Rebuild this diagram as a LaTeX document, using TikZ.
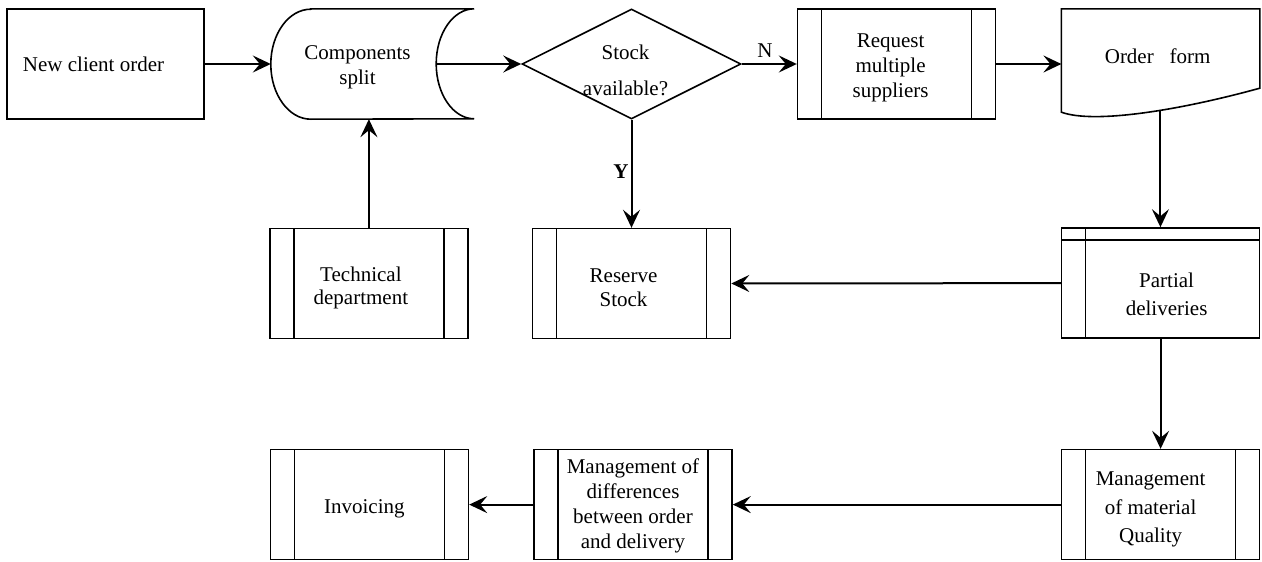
\documentclass[tikz,border=0pt]{standalone}
\usepackage{fontspec}
\setmainfont{Liberation Serif}
\usetikzlibrary{arrows.meta,positioning,shapes.geometric}

\tikzset{
  frame/.style={minimum width=198pt, minimum height=110pt, inner sep=0pt},
  box/.style={frame, draw, line width=1.6pt},
  predef/.style={box, path picture={
    \draw[line width=1.3pt]
      ([xshift=24pt]path picture bounding box.north west) -- ([xshift=24pt]path picture bounding box.south west)
      ([xshift=-24pt]path picture bounding box.north east) -- ([xshift=-24pt]path picture bounding box.south east);}},
  storage/.style={box, path picture={
    \draw[line width=1.3pt]
      ([xshift=24pt]path picture bounding box.north west) -- ([xshift=24pt]path picture bounding box.south west)
      ([yshift=-12pt]path picture bounding box.north west) -- ([yshift=-12pt]path picture bounding box.north east);}},
  decision/.style={draw, diamond, aspect=2, line width=1.6pt, minimum width=219pt, minimum height=110pt, inner sep=0pt},
  txt/.style={font=\fontsize{21}{25}\selectfont, align=center, inner sep=0pt},
  flow/.style={-{Stealth[length=18pt,width=17pt,inset=7pt]}, line width=2pt},
}

\begin{document}
\begin{tikzpicture}[x=1pt, y=-1pt, node distance=108pt]
  \useasboundingbox (0,0) rectangle (1262,562);

  % top row
  \node[box, minimum width=197pt] (neworder) at (105.5,64) {};
  \node[frame, minimum width=203pt, right=66pt of neworder] (comp) {};
  \node[decision, right=47pt of comp] (stock) {};
  \node[predef, right=55pt of stock] (request) {};
  \node[frame, right=65pt of request] (order) {};

  % middle row
  \node[predef, below=of stock] (reserve) {};
  \node[predef, left=63pt of reserve] (tech) {};
  \node[storage, below=of order] (partial) {};

  % bottom row
  \node[predef, below=110pt of partial] (quality) {};
  \node[predef, left=328pt of quality] (mgmtdiff) {};
  \node[predef, left=64pt of mgmtdiff] (invoice) {};

  % stored data and document outlines
  \draw[line width=1.6pt] ([xshift=40pt]comp.north west) -- (comp.north east)
    arc[start angle=90, end angle=270, x radius=38pt, y radius=55pt]
    -- ([xshift=40pt]comp.south west)
    arc[start angle=270, end angle=90, x radius=40pt, y radius=55pt] -- cycle;
  \draw[line width=1.6pt] (order.north west) -- ([yshift=7pt]order.south west)
    .. controls +(33pt,-12pt) and +(-80pt,-22pt) .. ([yshift=31pt]order.south east)
    coordinate[pos=0.58] (wave) -- (order.north east) -- cycle;

  % texts
  \node[txt] (neworder-t) at ([shift={(-12,0)}]neworder) {New client order};
  \node[txt] (comp-t) at ([shift={(-15,3)}]comp) {Components\\split};
  \node[txt] (stock-t) at ([shift={(-6,6)}]stock) {Stock\\[11pt]available?};
  \node[txt] (request-t) at ([shift={(-6,4)}]request) {Request\\multiple\\suppliers};
  \node[txt] (order-t) at ([shift={(-3,-8)}]order) {Order\ \ \ form};
  \node[txt] (tech-t) at ([shift={(-8,4)}]tech) {Technical\\[-2pt]department};
  \node[txt] (reserve-t) at ([shift={(-8,4)}]reserve) {Reserve\\[-1pt]Stock};
  \node[txt] (partial-t) at ([shift={(6,11)}]partial) {Partial\\[3pt]deliveries};
  \node[txt] (quality-t) at ([shift={(-10,5)}]quality) {Management\\[3.5pt]of material\\[3.5pt]Quality};
  \node[txt] (mgmtdiff-t) at ([shift={(0,1.5)}]mgmtdiff) {Management of\\differences\\between order\\and delivery};
  \node[txt] (invoice-t) at ([shift={(-5,4)}]invoice) {Invoicing};

  % connectors
  \draw[flow] (neworder) -- (comp);
  \draw[flow] ([xshift=-38pt]comp.east) -- (stock);
  \draw[flow] (stock) -- node[above, pos=0.42, inner sep=6pt, font=\fontsize{21}{25}\selectfont] (no) {N} (request);
  \draw[flow] (request) -- (order.west);
  \draw[flow] (wave) -- (wave |- partial.north);
  \draw[flow] (partial) -- (reserve);
  \draw[flow] (stock) -- node[left, pos=0.48, inner sep=2pt, font=\fontsize{21}{25}\selectfont\bfseries] (yes) {Y} (reserve);
  \draw[flow] (tech.north) -- (tech.north |- comp.south);
  \draw[flow] (partial) -- (quality);
  \draw[flow] (quality) -- (mgmtdiff);
  \draw[flow] (mgmtdiff) -- (invoice);
\end{tikzpicture}
\end{document}
